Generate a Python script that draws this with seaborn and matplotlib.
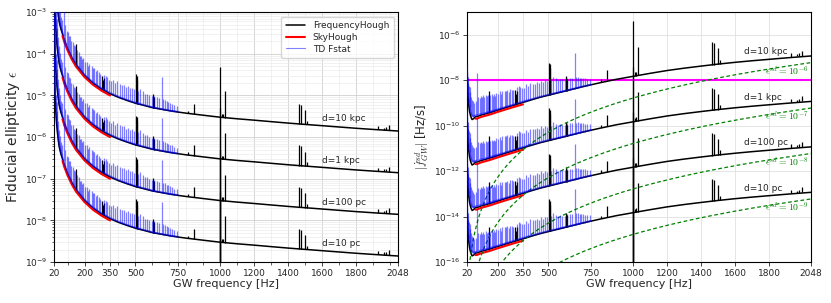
import numpy as np
import matplotlib
matplotlib.use('Agg')
import matplotlib.pyplot as plt
from matplotlib.ticker import MultipleLocator, NullLocator
import seaborn as sns

# source distances (kpc) and their labels
distances = [10.0, 1.0, 0.1, 0.01]
distance_labels = ['d=10 kpc', 'd=1 kpc', 'd=100 pc', 'd=10 pc']
ref_distance = 10.0

# FrequencyHough, fiducial ellipticity at d=10 kpc
fh_freq = [20, 23, 26, 30, 35, 40, 45, 50, 60, 70, 80, 100, 125, 150, 200, 250, 300, 350,
           400, 450, 500, 600, 700, 750, 800, 900, 1000, 1100, 1200, 1300, 1400, 1500,
           1600, 1700, 1800, 1900, 2048]
fh_eps = [7e-2, 2.5e-2, 1.0e-2, 4.5e-3, 2.2e-3, 1.3e-3, 8.5e-4, 6.0e-4, 4.0e-4, 3.0e-4,
          2.15e-4, 1.32e-4, 8.0e-5, 5.4e-5, 3.0e-5, 1.97e-5, 1.42e-5, 1.1e-5, 9.0e-6,
          7.6e-6, 6.5e-6, 5.1e-6, 4.3e-6, 4.0e-6, 3.75e-6, 3.35e-6, 3.0e-6, 2.75e-6,
          2.55e-6, 2.35e-6, 2.17e-6, 2.02e-6, 1.88e-6, 1.75e-6, 1.63e-6, 1.53e-6, 1.4e-6]
fh_spike_freq = [148, 303, 308, 315, 503, 507, 512, 602, 609, 812, 847, 1000, 1008, 1014,
                 1028, 1466, 1476, 1500, 1510, 1932, 1963, 1979, 1995]
fh_spike_lo = [5.5e-5, 1.42e-5, 1.4e-5, 1.37e-5, 6.5e-6, 6.5e-6, 6.4e-6, 5.1e-6, 5.0e-6,
               3.8e-6, 3.6e-6, 1e-12, 3.0e-6, 3.0e-6, 2.95e-6, 2.07e-6, 2.06e-6, 2.02e-6,
               2.01e-6, 1.55e-6, 1.52e-6, 1.5e-6, 1.49e-6]
fh_spike_hi = [1.7e-4, 2.9e-5, 2.3e-5, 2.6e-5, 3.3e-5, 3.0e-5, 2.4e-5, 1.07e-5, 9.0e-6,
               4.3e-6, 6.3e-6, 4.9e-5, 3.6e-6, 3.6e-6, 1.26e-5, 6.4e-6, 6.0e-6, 4.5e-6,
               2.5e-6, 1.85e-6, 1.7e-6, 1.75e-6, 1.95e-6]

# SkyHough, d=10 kpc
sky_freq = [70, 80, 100, 125, 150, 200, 250, 300, 350]
sky_eps = [2.7e-4, 1.95e-4, 1.2e-4, 7.3e-5, 4.9e-5, 2.75e-5, 1.8e-5, 1.3e-5, 1.0e-5]

# TD Fstat, d=10 kpc
td_freq = [20, 25, 30, 40, 50, 60, 70, 80, 100, 125, 150, 200, 250, 300, 350, 400, 450,
           500, 600, 700, 750]
td_eps = [8e-2, 1.6e-2, 5.5e-3, 1.6e-3, 7.2e-4, 4.5e-4, 3.2e-4, 2.3e-4, 1.4e-4, 8.4e-5,
          5.7e-5, 3.15e-5, 2.05e-5, 1.48e-5, 1.15e-5, 9.3e-6, 7.8e-6, 6.7e-6, 5.2e-6,
          4.35e-6, 4.05e-6]
td_spike_freq = [22, 25, 28, 32, 36, 40, 45, 52, 58, 64, 70, 77, 87, 95, 101, 108, 114,
                 122, 130, 136, 142, 155, 165, 172, 179, 186, 193, 205, 216, 222, 228,
                 242, 250, 258, 265, 272, 283, 292, 315, 327, 334, 345, 358, 370, 382,
                 393, 409, 420, 433, 445, 458, 466, 478, 490, 515, 527, 543, 555, 566,
                 580, 595, 610, 625, 640, 655, 665, 674, 685, 694, 705, 714, 728, 743]
td_spike_lo = [4e-2, 1.6e-2, 9e-3, 4.5e-3, 2.6e-3, 1.6e-3, 1.0e-3, 6.5e-4, 4.8e-4, 3.8e-4,
               3.2e-4, 2.6e-4, 2.0e-4, 1.6e-4, 1.4e-4, 1.2e-4, 1.05e-4, 9e-5, 7.6e-5,
               7e-5, 6.4e-5, 5.3e-5, 4.5e-5, 4.2e-5, 3.8e-5, 3.6e-5, 3.3e-5, 3.0e-5,
               2.7e-5, 2.6e-5, 2.4e-5, 2.15e-5, 2.05e-5, 1.9e-5, 1.85e-5, 1.75e-5,
               1.65e-5, 1.55e-5, 1.4e-5, 1.3e-5, 1.25e-5, 1.18e-5, 1.12e-5, 1.05e-5,
               1.0e-5, 9.8e-6, 9.2e-6, 8.9e-6, 8.5e-6, 8.1e-6, 7.9e-6, 7.6e-6, 7.4e-6,
               7.0e-6, 6.4e-6, 6.2e-6, 6.0e-6, 5.8e-6, 5.6e-6, 5.4e-6, 5.2e-6, 5.05e-6,
               4.9e-6, 4.75e-6, 4.6e-6, 4.55e-6, 4.5e-6, 4.45e-6, 4.4e-6, 4.3e-6, 4.2e-6,
               4.15e-6, 4.05e-6]
td_spike_hi = [8e-2, 3e-2, 1.6e-2, 1e-2, 7e-3, 4.2e-3, 2.5e-3, 1.5e-3, 1.05e-3, 7.5e-4,
               6.5e-4, 2.2e-3, 4.8e-4, 3.6e-4, 3.4e-4, 2.7e-4, 2.6e-4, 2.0e-4, 1.9e-4,
               1.6e-4, 1.5e-4, 1.2e-4, 1.1e-4, 9.0e-5, 9.0e-5, 7.5e-5, 8.0e-5, 6.5e-5,
               6.5e-5, 5.2e-5, 5.8e-5, 5.0e-5, 4.6e-5, 4.5e-5, 3.8e-5, 4.0e-5, 3.6e-5,
               3.2e-5, 3.1e-5, 3.0e-5, 2.7e-5, 2.4e-5, 2.2e-5, 2.4e-5, 2.0e-5, 2.2e-5,
               1.9e-5, 1.8e-5, 1.8e-5, 1.6e-5, 1.7e-5, 1.5e-5, 1.55e-5, 1.4e-5, 1.3e-5,
               1.45e-5, 1.25e-5, 1.1e-5, 1.1e-5, 1.0e-5, 9.5e-6, 9.5e-6, 9.0e-6, 8.5e-6,
               2.8e-5, 8.0e-6, 7.8e-6, 7.2e-6, 7.0e-6, 6.6e-6, 6.3e-6, 5.8e-6, 5.6e-6]

# spin-down reference lines
sd_eps = [1e-6, 1e-7, 1e-8, 1e-9]
sd_labels = [r'$\epsilon^{sd}=10^{-6}$', r'$\epsilon^{sd}=10^{-7}$',
             r'$\epsilon^{sd}=10^{-8}$', r'$\epsilon^{sd}=10^{-9}$']
sd_ref_fdot = 6e-8   # |fdot| for eps=1e-6 at 2048 Hz
sd_ref_eps = 1e-6
sd_ref_freq = 2048.0
fdot_limit = 1e-8

freq_ticks = [20, 200, 350, 500, 750, 1000, 1200, 1400, 1600, 1800, 2048]


def spindown(freq, eps):
    freq = np.asarray(freq, dtype=float)
    eps = np.asarray(eps, dtype=float)
    return sd_ref_fdot * (eps / sd_ref_eps) ** 2 * (freq / sd_ref_freq) ** 5


sns.set_style('ticks')
plt.rcParams['font.family'] = ['DejaVu Sans']
plt.rcParams['mathtext.fontset'] = 'cm'
plt.rcParams['xtick.labelsize'] = 6.5
plt.rcParams['ytick.labelsize'] = 6.5

fig = plt.figure(figsize=(8.31, 3.03), dpi=100)
ax1 = fig.add_axes([0.065, 0.135, 0.414, 0.825])
ax2 = fig.add_axes([0.562, 0.135, 0.414, 0.825])

for ax, right in [(ax1, False), (ax2, True)]:
    ax.set_yscale('log')
    for i, d in enumerate(distances):
        def conv(f, e):
            e = np.asarray(e, dtype=float) * d / ref_distance
            return spindown(f, e) if right else e

        sns.lineplot(x=fh_freq, y=conv(fh_freq, fh_eps), ax=ax, color='black', lw=1.1,
                     estimator=None, zorder=2, label='FrequencyHough' if i == 0 else None)
        ax.vlines(fh_spike_freq, conv(fh_spike_freq, fh_spike_lo),
                  conv(fh_spike_freq, fh_spike_hi), color='black', lw=0.9, zorder=2)
        sns.lineplot(x=sky_freq, y=conv(sky_freq, sky_eps), ax=ax, color='red', lw=1.5,
                     estimator=None, zorder=3, label='SkyHough' if i == 0 else None)
        sns.lineplot(x=td_freq, y=conv(td_freq, td_eps), ax=ax, color='blue', lw=1.3,
                     alpha=0.5, estimator=None, zorder=4,
                     label='TD Fstat' if i == 0 else None)
        ax.vlines(td_spike_freq, conv(td_spike_freq, td_spike_lo),
                  conv(td_spike_freq, td_spike_hi), color='blue', lw=0.9, alpha=0.5,
                  zorder=4)

    ax.set_xlim(20, 2048)
    ax.set_xticks(freq_ticks)
    ax.set_xticklabels([str(t) for t in freq_ticks])
    ax.set_xlabel('GW frequency [Hz]', fontsize=8, labelpad=1)
    for s in ax.spines.values():
        s.set_color('black')
        s.set_linewidth(0.8)
    ax.tick_params(length=3, width=0.6, pad=2)
    ax.tick_params(which='minor', length=1.8, width=0.5)

# left panel
for i, d in enumerate(distances):
    ax1.text(1598, 2.75e-6 * d / ref_distance, distance_labels[i], fontsize=6.5,
             ha='left', va='center')
ax1.set_ylim(1e-9, 1e-3)
ax1.xaxis.set_minor_locator(MultipleLocator(100))
ax1.grid(True, which='major', color='#d0d0d0', lw=0.6)
ax1.grid(True, which='minor', color='#ebebeb', lw=0.5)
ax1.set_axisbelow(True)
ax1.set_ylabel(r'Fiducial ellipticity $\epsilon$', fontsize=10, labelpad=2)
leg = ax1.legend(loc='upper right', fontsize=6.5, handlelength=2.2, borderpad=0.5,
                 labelspacing=0.3, frameon=True, fancybox=True, edgecolor='#cccccc')
leg.get_lines()[2].set_linewidth(0.8)

# right panel
fgrid = np.linspace(20, 2048, 500)
for e, lab in zip(sd_eps, sd_labels):
    sns.lineplot(x=fgrid, y=spindown(fgrid, e), ax=ax2, color='green', lw=0.9,
                 linestyle=(0, (3, 2)), zorder=3)
    ax2.text(2035, 2.6e-8 * (e / 1e-6) ** 2, lab, color='green', fontsize=7,
             ha='right', va='center')
ax2.axhline(fdot_limit, color='magenta', lw=1.5, zorder=1.5)
for i, d in enumerate(distances):
    ax2.text(1655, 1.8e-7 * (d / ref_distance) ** 2, distance_labels[i], fontsize=6.5,
             ha='left', va='center')
ax2.set_ylim(1e-16, 1e-5)
ax2.xaxis.set_minor_locator(NullLocator())
ax2.grid(True, which='major', color='#e0e0e0', lw=0.6)
ax2.set_axisbelow(True)
ax2.set_ylabel(r'$|\dot{f}^{sd}_{GW}|$ [Hz/s]', fontsize=8.5, labelpad=2)
if ax2.get_legend() is not None:
    ax2.get_legend().remove()

fig.savefig('out.png', dpi=100)
